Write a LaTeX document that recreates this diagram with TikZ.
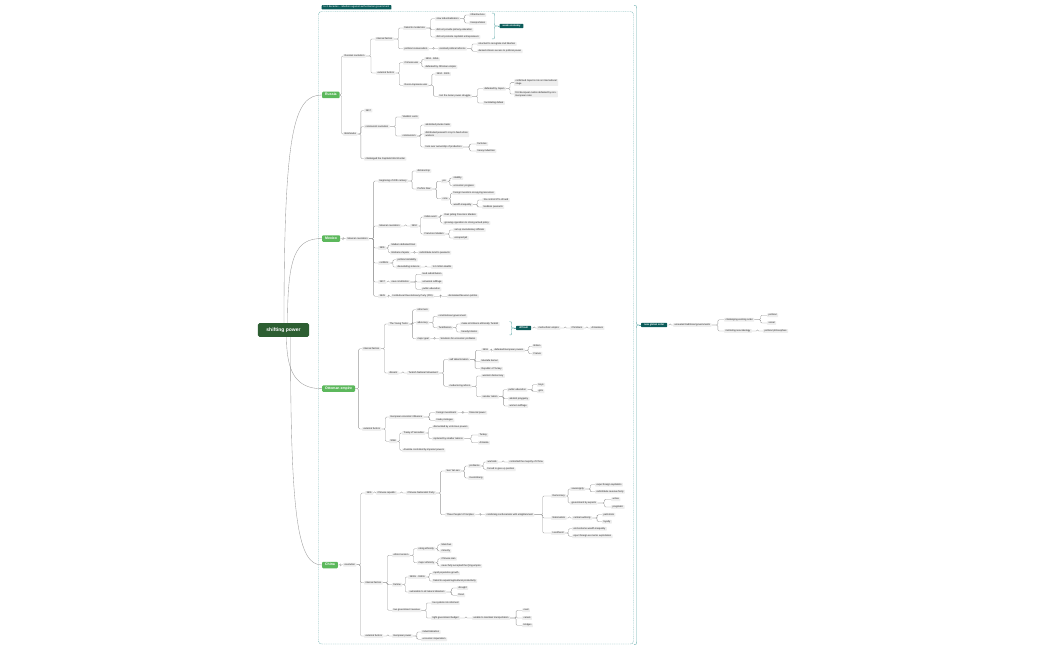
\documentclass[tikz,border=0pt]{standalone}
\usepackage{fontspec}
\setmainfont{Liberation Sans}
\usetikzlibrary{calc}
\definecolor{lgray}{HTML}{EEEEEE}
\definecolor{linec}{HTML}{9A9A9A}
\definecolor{gnode}{HTML}{5CB85C}
\definecolor{rootc}{HTML}{2D5E32}
\definecolor{tealc}{HTML}{0C5C5A}
\definecolor{framec}{HTML}{6AAFAF}
\definecolor{textc}{HTML}{222222}
\newcommand\cn[2]{\draw[ln] (#1.east) -| ($(#1.east)!.5!(#2.west)$) |- (#2.west);}
\newcommand\cns[2]{\foreach \kid in {#2}{\cn{#1}{\kid}}}
\begin{document}
\begin{tikzpicture}[x=1pt,y=-1pt,
  base/.style={fill=lgray, rounded corners=0.6pt, inner xsep=1.4pt, inner ysep=0.8pt, font=\fontsize{2.4}{2.9}\selectfont, text=textc, anchor=west},
  lf/.style={base, text height=1.75pt, text depth=0.5pt},
  lf2/.style={base, align=left},
  grn/.style={fill=gnode, text=white, rounded corners=1pt, inner xsep=3pt, inner ysep=1.6pt, text height=2.5pt, text depth=0.8pt, font=\fontsize{3.5}{4}\selectfont\bfseries, anchor=west},
  tl/.style={fill=tealc, text=white, rounded corners=0.6pt, inner xsep=3pt, inner ysep=0.9pt, text height=1.85pt, text depth=0.55pt, font=\fontsize{2.5}{3}\selectfont\bfseries, anchor=west},
  rootn/.style={fill=rootc, text=white, rounded corners=1.5pt, inner xsep=8.5pt, inner ysep=4.5pt, font=\fontsize{5}{6}\selectfont\bfseries},
  ln/.style={draw=linec, line width=0.35pt, rounded corners=1.2pt},
  br/.style={draw=framec, line width=0.45pt}
]
\useasboundingbox[fill=white] (0,0) rectangle (1050,650);
% frame
\draw[framec, line width=0.45pt, dash pattern=on 1pt off 0.8pt, rounded corners=3pt] (318.5,11.5) rectangle (633.5,644);
\node[tl, font=\fontsize{2.6}{3}\selectfont, inner xsep=2pt] (tab) at (321.5,7.3) {to 2 decades - rebellion against authoritarian government};
% root
\node[rootn] (root) at (283.5,330) {shifting power};
\node[grn] (rus) at (322,95) {Russia};
\node[grn] (mex) at (322,238.5) {Mexico};
\node[grn] (ott) at (322,388.7) {Ottoman empire};
\node[grn] (chn) at (322,565) {China};
\draw[ln] ($(root.north)+(0.5,0)$) .. controls (284,130) and (294,95) .. (rus.west);
\draw[ln] ($(root.north)+(4,0)$) .. controls (287.5,255) and (296,238.5) .. (mex.west);
\draw[ln] ($(root.south)+(3,0)$) .. controls (286.5,372) and (296,388.7) .. (ott.west);
\draw[ln] ($(root.south)+(7,0)$) .. controls (290.5,520) and (298,565) .. (chn.west);

% ---------------- Russia
\node[lf] (rrev) at (343,56) {Russian revolution};
\node[lf] (rint) at (375,39) {internal factors};
\node[lf] (rfail) at (403,28) {failed to modernize};
\node[lf] (rslow) at (435,18.7) {slow industrialization};
\node[lf] (rinfra) at (469,15) {infrastructure};
\node[lf] (rtrans) at (469,23) {transportation};
\node[lf] (redu) at (435,29.7) {did not provide primary education};
\node[lf] (rcap) at (435,37) {did not promote capitalist entrepreneurs};
\node[lf] (rpol) at (403,48.7) {political conservatism};
\node[lf] (rres) at (438,48.7) {resisted political reforms};
\node[lf] (rrel) at (477,44) {reluctant to recognize civil liberties};
\node[lf] (rden) at (477,51.3) {denied citizens access to political power};
\node[tl] (weak) at (499.5,26) {weak economy};
\node[lf] (rext) at (376,73) {external factors};
\node[lf] (rcri) at (403,62.7) {Crimean war};
\node[lf] (r1853) at (424,59.3) {1853 - 1856};
\node[lf] (rott) at (424,67) {defeated by Ottoman empire};
\node[lf] (rrjw) at (403,85.3) {Russo-Japanese war};
\node[lf] (r1904) at (435,74) {1904 - 1905};
\node[lf] (rlost) at (438,96.3) {lost the Asian power struggle};
\node[lf] (rjap) at (483,88.7) {defeated by Japan};
\node[lf2] (rconf) at (514,82.6) {confirmed Japan's role on international\\stage};
\node[lf2] (rfirst) at (514,94) {first European nation defeated by non-\\European rules};
\node[lf] (rhum) at (483,103) {humiliating defeat};
\node[lf] (rbol) at (343,134) {Bolsheviks};
\node[lf] (r1917) at (364,110.5) {1917};
\node[lf] (rcom) at (364,126.5) {communist revolution};
\node[lf] (rlen) at (401,117) {Vladimir Lenin};
\node[lf] (rcomm) at (401,136) {communism};
\node[lf] (rabo) at (424,125) {abolished private trade};
\node[lf2] (rdist) at (424,134) {distributed peasant's crop to feed urban\\workers};
\node[lf] (rtook) at (424,147) {took over ownership of production};
\node[lf] (rfac) at (476,144) {factories};
\node[lf] (rheavy) at (476,151) {heavy industries};
\node[lf] (rchal) at (364,158.7) {challenged the Capitalist World order};

\cns{rus}{rrev,rbol}
\cns{rrev}{rint,rext}
\cns{rint}{rfail,rpol}
\cns{rfail}{rslow,redu,rcap}
\cns{rslow}{rinfra,rtrans}
\cns{rpol}{rres}
\cns{rres}{rrel,rden}
\cns{rext}{rcri,rrjw}
\cns{rcri}{r1853,rott}
\cns{rrjw}{r1904,rlost}
\cns{rlost}{rjap,rhum}
\cns{rjap}{rconf,rfirst}
\cns{rbol}{r1917,rcom,rchal}
\cns{rcom}{rlen,rcomm}
\cns{rcomm}{rabo,rdist,rtook}
\cns{rtook}{rfac,rheavy}
\coordinate (wtip) at (497.5,26);
\draw[br] (492,13) .. controls (494.5,13) .. (494.5,15.5) -- (494.5,23.5) .. controls (494.5,26) .. (wtip) .. controls (494.5,26) .. (494.5,28.5) -- (494.5,36.5) .. controls (494.5,39) .. (492,39);
\draw[br] (wtip) -- (weak.west);

% ---------------- Mexico
\node[lf] (mrev) at (346,238.7) {Mexican revolution};
\node[lf] (mbeg) at (378,181) {beginning of 20th century};
\node[lf] (mdic) at (416,171) {dictatorship};
\node[lf] (mpor) at (416,189) {Porfirio Diaz};
\node[lf] (mpro) at (441,181.3) {pro};
\node[lf] (mstab) at (452,178) {stability};
\node[lf] (mecon) at (452,185.7) {economic progress};
\node[lf] (mcons) at (441,198.7) {cons};
\node[lf] (mfor) at (452,193) {foreign investors occupying resources};
\node[lf] (mwea) at (452,204.7) {wealth inequality};
\node[lf] (m1pct) at (482,200) {1\% control 97\% of land};
\node[lf] (mland) at (482,207) {landless peasants};
\node[lf] (mmr) at (378,226) {Mexican revolution};
\node[lf] (m1910) at (410,226) {1910};
\node[lf] (minit) at (423,217) {initial event};
\node[lf] (mjail) at (443,215) {Diaz jailing Francisco Madero};
\node[lf] (mgrow) at (443,223) {growing opposition to strong armed policy};
\node[lf] (mfran) at (423,234) {Francisco Madero};
\node[lf] (mset) at (453,230) {set up revolutionary officials};
\node[lf] (mesc) at (453,238) {escaped jail};
\node[lf] (m1911) at (378,248) {1911};
\node[lf] (mmad) at (390,245) {Madero defeated Diaz};
\node[lf] (mzap) at (390,252.7) {Emiliano Zapata};
\node[lf] (mred) at (418,252.7) {redistribute land to peasants};
\node[lf] (mconf) at (378,263) {conflicts};
\node[lf] (mpoli) at (396,259.7) {political instability};
\node[lf] (mdev) at (396,267) {devastating violence};
\node[lf] (mdeath) at (431,267) {1-2 million deaths};
\node[lf] (m1917) at (378,282) {1917};
\node[lf] (mnew) at (390,282) {new constitution};
\node[lf] (mlandr) at (421,274.3) {land redistribution};
\node[lf] (muni) at (421,282) {universal suffrage};
\node[lf] (mpub) at (421,289.3) {public education};
\node[lf] (m1929) at (378,296.3) {1929};
\node[lf] (mpri) at (391,296.3) {Institutional Revolutionary Party (PRI)};
\node[lf] (mdom) at (447,296.3) {dominated Mexican politics};

\cns{mex}{mrev}
\cns{mrev}{mbeg,mmr,m1911,mconf,m1917,m1929}
\cns{mbeg}{mdic,mpor}
\cns{mpor}{mpro,mcons}
\cns{mpro}{mstab,mecon}
\cns{mcons}{mfor,mwea}
\cns{mwea}{m1pct,mland}
\cns{mmr}{m1910}
\cns{m1910}{minit,mfran}
\cns{minit}{mjail,mgrow}
\cns{mfran}{mset,mesc}
\cns{m1911}{mmad,mzap}
\cns{mzap}{mred}
\cns{mconf}{mpoli,mdev}
\cns{mdev}{mdeath}
\cns{m1917}{mnew}
\cns{mnew}{mlandr,muni,mpub}
\cns{m1929}{mpri}
\cns{mpri}{mdom}

% ---------------- Ottoman
\node[lf] (oint) at (362,348.7) {internal factors};
\node[lf] (oyt) at (388,324) {The Young Turks};
\node[lf] (oref) at (416,309.7) {reformers};
\node[lf] (oadv) at (416,322.7) {advocacy};
\node[lf] (ocon) at (437,316.3) {constitutional government};
\node[lf] (oturk) at (437,327.7) {Turkification};
\node[lf] (omake) at (460,324) {make all citizens ethnically Turkish};
\node[lf] (oisl) at (460,332) {heavily Islamic};
\node[lf] (omaj) at (416,338.7) {major goal};
\node[lf] (osol) at (439,338.7) {Solutions for economic problems};
\node[tl] (odiff) at (516,328) {difficult};
\node[lf] (omulti) at (537,328) {multi-ethnic empire};
\node[lf] (ochr) at (570,328) {Christians};
\node[lf] (oarm) at (590,328) {Armenians};
\node[lf] (olead) at (388,373) {dissent};
\node[lf] (otnm) at (407,373) {Turkish National Movement};
\node[lf] (oself) at (448,359.5) {self determination};
\node[lf] (o1918) at (481,350.3) {1918};
\node[lf] (odef) at (493,350.3) {defeated European powers};
\node[lf] (obrit) at (532,346.3) {Britain};
\node[lf] (ofra) at (532,353.7) {France};
\node[lf] (omus) at (480,361.3) {Mustafa Kemal};
\node[lf] (orep) at (480,368.7) {Republic of Turkey};
\node[lf] (omod) at (448,386.3) {modernizing reform};
\node[lf] (owes) at (481,376) {western democracy};
\node[lf] (osec) at (481,396.7) {secular nation};
\node[lf] (opub) at (507,389.7) {public education};
\node[lf] (oboys) at (537,384.7) {boys};
\node[lf] (ogirls) at (537,391.3) {girls};
\node[lf] (opoly) at (508,398.7) {abolish polygamy};
\node[lf] (owom) at (508,406) {women suffrage};
\node[lf] (oext) at (362,429) {external factors};
\node[lf] (oeur) at (389,417) {European economic influence};
\node[lf] (ofinv) at (435,412.7) {foreign investment};
\node[lf] (ofpow) at (468,412.7) {financial power};
\node[lf] (otrade) at (435,420.3) {trade privileges};
\node[lf] (owwi) at (389,441.3) {WWI};
\node[lf] (otre) at (402,433) {Treaty of Versailles};
\node[lf] (odis) at (432,427.3) {dismantled by victorious powers};
\node[lf] (orepl) at (432,438.7) {replaced by smaller nations};
\node[lf] (oturkey) at (478,435) {Turkey};
\node[lf] (oarmenia) at (478,442.7) {Armenia};
\node[lf] (oana) at (402,450.3) {Anatolia controlled by imperial powers};

\cns{ott}{oint,oext}
\cns{oint}{oyt,olead}
\cns{oyt}{oref,oadv,omaj}
\cns{oadv}{ocon,oturk}
\cns{oturk}{omake,oisl}
\cns{omaj}{osol}
\cns{odiff}{omulti}
\cns{omulti}{ochr}
\cns{ochr}{oarm}
\cns{olead}{otnm}
\cns{otnm}{oself,omod}
\cns{oself}{o1918,omus,orep}
\cns{o1918}{odef}
\cns{odef}{obrit,ofra}
\cns{omod}{owes,osec}
\cns{osec}{opub,opoly,owom}
\cns{opub}{oboys,ogirls}
\cns{oext}{oeur,owwi}
\cns{oeur}{ofinv,otrade}
\cns{ofinv}{ofpow}
\cns{owwi}{otre,oana}
\cns{otre}{odis,orepl}
\cns{orepl}{oturkey,oarmenia}
\coordinate (dtip) at (514,328);
\draw[br] (509.5,321.7) .. controls (511.5,321.7) .. (511.5,323.7) -- (511.5,326) .. controls (511.5,328) .. (dtip) .. controls (511.5,328) .. (511.5,330) -- (511.5,333) .. controls (511.5,335) .. (509.5,335);
\draw[br] (dtip) -- (odiff.west);

% ---------------- China
\node[lf] (crev) at (343,564.7) {revolution};
\node[lf] (c1911) at (365,493) {1911};
\node[lf] (crep) at (376,493) {Chinese republic};
\node[lf] (cnat) at (406,493) {Chinese Nationalist Party};
\node[lf] (csun) at (445,471) {Sun Yat-sen};
\node[lf] (cprob) at (468,466) {problems};
\node[lf] (cwar) at (486,462) {warlords};
\node[lf] (cctrl) at (508,462) {controlled the majority of China};
\node[lf] (cyuan) at (486,469.3) {forced to give up position};
\node[lf] (ckmt) at (468,478) {Kuomintang};
\node[lf] (cthree) at (445,514.7) {Three People's Principles};
\node[lf] (ccomb) at (485,514.7) {combining confucianism with enlightenment};
\node[lf] (cdem) at (551,496) {Democracy};
\node[lf] (csov) at (570,489) {sovereignty};
\node[lf] (cexp) at (595,484.7) {expel foreign capitalists};
\node[lf] (credi) at (595,491.7) {redistribute revenue fairly};
\node[lf] (cgov) at (570,503) {government by experts};
\node[lf] (cact) at (611,499.3) {active};
\node[lf] (cprag) at (611,507) {pragmatic};
\node[lf] (cnatl) at (551,518) {Nationalism};
\node[lf] (ccen) at (572,518) {central authority};
\node[lf] (cpat) at (602,514.7) {patriotism};
\node[lf] (cloy) at (602,521.7) {loyalty};
\node[lf] (cliv) at (551,533) {Livelihood};
\node[lf] (cend) at (572,528.7) {end extreme wealth inequality};
\node[lf] (crej) at (572,536.3) {reject foreign economic exploitation};
\node[lf] (cint) at (364,582.7) {internal factors};
\node[lf] (ceth) at (392,555.3) {ethnic tension};
\node[lf] (crul) at (417,548.7) {ruling ethnicity};
\node[lf] (cman) at (440,544.7) {Manchus};
\node[lf] (cmin) at (440,551) {minority};
\node[lf] (cmaj) at (417,562.7) {major ethnicity};
\node[lf] (chan) at (440,558.7) {Chinese Han};
\node[lf] (cnev) at (440,566) {never fully accepted the Qing empire};
\node[lf] (cfam) at (392,584.7) {famine};
\node[lf] (c1900) at (408,577) {1900s - 1930s};
\node[lf] (crap) at (432,573.3) {rapid population growth};
\node[lf] (cfail) at (432,581) {failed to expand agricultural productivity};
\node[lf] (cvul) at (408,592) {vulnerable to all natural disasters};
\node[lf] (cdro) at (457,588) {drought};
\node[lf] (cflo) at (457,595.3) {flood};
\node[lf] (clow) at (392,610.3) {low government revenue};
\node[lf] (ctax) at (431,603) {tax system not reformed};
\node[lf] (ctight) at (431,618) {tight government budget};
\node[lf] (cunable) at (472,618) {unable to maintain transportation};
\node[lf] (croad) at (522,610.3) {road};
\node[lf] (ccan) at (522,618) {canals};
\node[lf] (cbri) at (522,625.3) {bridges};
\node[lf] (cext) at (364,636) {external factors};
\node[lf] (ceur) at (392,636) {European power};
\node[lf] (cind) at (421,632) {industrialization};
\node[lf] (cimp) at (421,639.3) {economic imperialism};

\cns{chn}{crev}
\cns{crev}{c1911,cint,cext}
\cns{c1911}{crep}
\cns{crep}{cnat}
\cns{cnat}{csun,cthree}
\cns{csun}{cprob,ckmt}
\cns{cprob}{cwar,cyuan}
\cns{cwar}{cctrl}
\cns{cthree}{ccomb}
\cns{ccomb}{cdem,cnatl,cliv}
\cns{cdem}{csov,cgov}
\cns{csov}{cexp,credi}
\cns{cgov}{cact,cprag}
\cns{cnatl}{ccen}
\cns{ccen}{cpat,cloy}
\cns{cliv}{cend,crej}
\cns{cint}{ceth,cfam,clow}
\cns{ceth}{crul,cmaj}
\cns{crul}{cman,cmin}
\cns{cmaj}{chan,cnev}
\cns{cfam}{c1900,cvul}
\cns{c1900}{crap,cfail}
\cns{cvul}{cdro,cflo}
\cns{clow}{ctax,ctight}
\cns{ctight}{cunable}
\cns{cunable}{croad,ccan,cbri}
\cns{cext}{ceur}
\cns{ceur}{cind,cimp}

% ---------------- right side
\node[tl] (ngo) at (641,325) {new global order};
\node[lf] (nuns) at (673,325) {unseated traditional governments};
\node[lf] (nchal) at (724,319.7) {challenging existing order};
\node[lf] (npol) at (767,315.3) {political};
\node[lf] (nsoc) at (767,323) {social};
\node[lf] (ninst) at (724,331) {instituting new ideology};
\node[lf] (nphil) at (763,331) {political philosophies};
\cns{ngo}{nuns}
\cns{nuns}{nchal,ninst}
\cns{nchal}{npol,nsoc}
\cns{ninst}{nphil}
\coordinate (gtip) at (639,325);
\draw[br] (634,5.5) .. controls (636.5,5.5) .. (636.5,8.5) -- (636.5,322) .. controls (636.5,325) .. (gtip) .. controls (636.5,325) .. (636.5,328) -- (636.5,641.5) .. controls (636.5,644.5) .. (634,644.5);
\draw[br] (gtip) -- (ngo.west);
\end{tikzpicture}
\end{document}
